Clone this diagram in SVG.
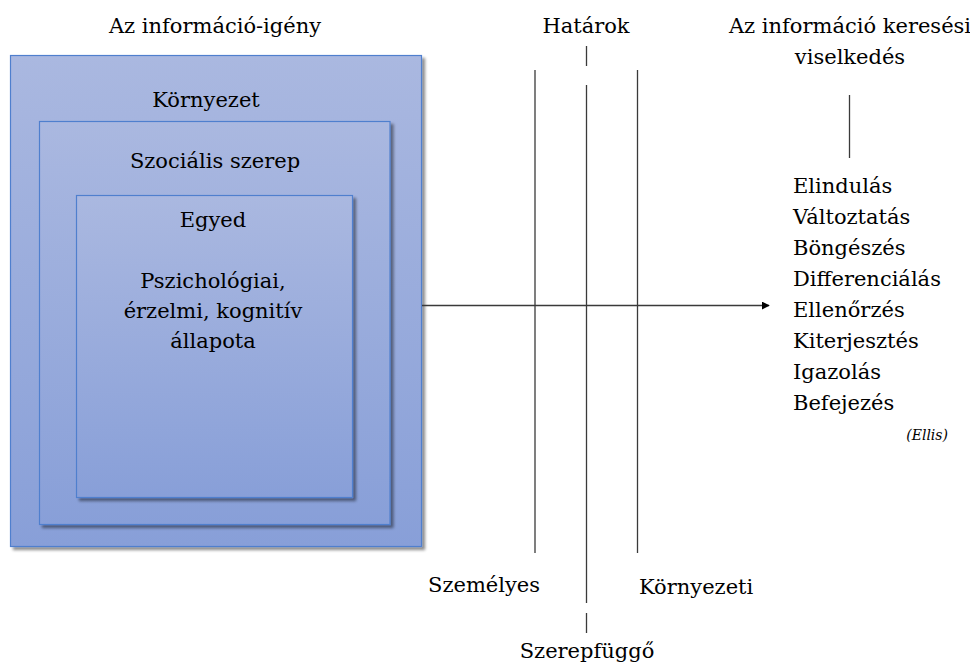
<svg xmlns="http://www.w3.org/2000/svg" width="970" height="664" viewBox="0 0 970 664">
  <defs>
    <linearGradient id="boxFill" x1="0" y1="0" x2="0" y2="1">
      <stop offset="0" stop-color="#aab8e0"/>
      <stop offset="1" stop-color="#889fd8"/>
    </linearGradient>
    <filter id="shadow" x="-5%" y="-5%" width="115%" height="115%">
      <feGaussianBlur in="SourceAlpha" stdDeviation="1.5"/>
      <feOffset dx="2.5" dy="2.5" result="blur"/>
      <feComponentTransfer><feFuncA type="linear" slope="0.45"/></feComponentTransfer>
      <feMerge><feMergeNode/><feMergeNode in="SourceGraphic"/></feMerge>
    </filter>
    <marker id="arrow" viewBox="0 0 10 10" refX="9" refY="5" markerWidth="8" markerHeight="8" markerUnits="userSpaceOnUse" orient="auto">
      <path d="M0,0 L10,5 L0,10 z" fill="#000"/>
    </marker>
  </defs>
  <style>
    text { font-family: 'DejaVu Serif', 'Liberation Serif', serif; font-size: 21px; fill: #000; }
    .mid { text-anchor: middle; }
    .box { fill: url(#boxFill); stroke: #4f7fce; stroke-width: 1.2; filter: url(#shadow); }
    .line { stroke: #3a3a3a; stroke-width: 1.3; fill: none; }
    .cite { font-size: 14px; font-style: italic; }
  </style>

  <rect width="970" height="664" fill="#fff"/>

  <!-- headings -->
  <text class="mid" x="215" y="33">Az információ-igény</text>
  <text class="mid" x="586" y="33">Határok</text>
  <text class="mid" x="850" y="33">Az információ keresési</text>
  <text class="mid" x="850" y="64">viselkedés</text>

  <!-- nested context boxes -->
  <g id="kornyezet">
    <rect class="box" x="10.5" y="55.5" width="411" height="491"/>
    <text class="mid" x="206" y="107">Környezet</text>
  </g>
  <g id="szocialis-szerep">
    <rect class="box" x="39.5" y="121.5" width="350.5" height="403"/>
    <text class="mid" x="215" y="168">Szociális szerep</text>
  </g>
  <g id="egyed">
    <rect class="box" x="76.5" y="195.5" width="276" height="302"/>
    <text class="mid" x="213" y="227">Egyed</text>
    <text class="mid" x="213" y="288">Pszichológiai,</text>
    <text class="mid" x="213" y="318">érzelmi, kognitív</text>
    <text class="mid" x="213" y="348">állapota</text>
  </g>

  <!-- boundaries and flow -->
  <g id="connectors">
    <line class="line" x1="422" y1="305.5" x2="769" y2="305.5" marker-end="url(#arrow)"/>
    <line class="line" x1="535" y1="70" x2="535" y2="553"/>
    <line class="line" x1="637.5" y1="70" x2="637.5" y2="553"/>
    <line class="line" x1="586.5" y1="46" x2="586.5" y2="66"/>
    <line class="line" x1="586.5" y1="85" x2="586.5" y2="603"/>
    <line class="line" x1="586.5" y1="613" x2="586.5" y2="633"/>
    <line class="line" x1="849.5" y1="95" x2="849.5" y2="158"/>
  </g>

  <!-- boundary labels -->
  <g id="hatar-cimkek">
    <text x="428" y="592">Személyes</text>
    <text x="639" y="594">Környezeti</text>
    <text class="mid" x="587" y="658">Szerepfüggő</text>
  </g>

  <!-- Ellis stages -->
  <g id="ellis">
    <text x="793" y="193">Elindulás</text>
    <text x="793" y="224">Változtatás</text>
    <text x="793" y="255">Böngészés</text>
    <text x="793" y="286">Differenciálás</text>
    <text x="793" y="317">Ellenőrzés</text>
    <text x="793" y="348">Kiterjesztés</text>
    <text x="793" y="379">Igazolás</text>
    <text x="793" y="410">Befejezés</text>
    <text class="cite" x="948" y="440" text-anchor="end">(Ellis)</text>
  </g>
</svg>
